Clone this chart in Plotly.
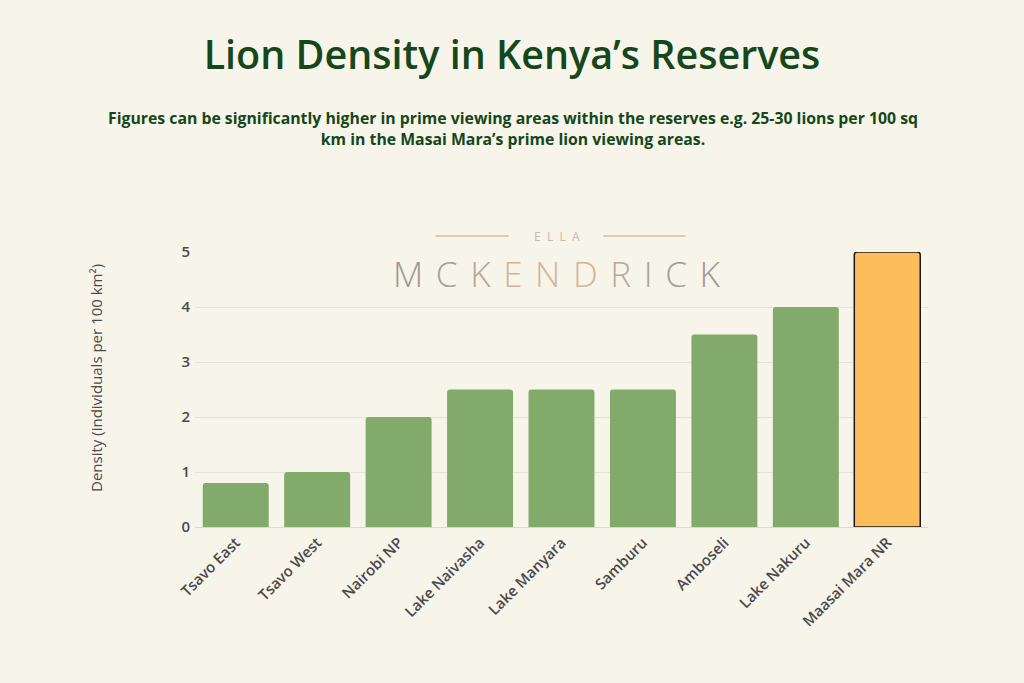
import plotly.graph_objects as go

# data
reserves = ["Tsavo East", "Tsavo West", "Nairobi NP", "Lake Naivasha", "Lake Manyara",
            "Samburu", "Amboseli", "Lake Nakuru", "Maasai Mara NR"]
density = [0.8, 1.0, 2.0, 2.5, 2.5, 2.5, 3.5, 4.0, 5.0]
highlight = "Maasai Mara NR"

title_text = "Lion Density in Kenya’s Reserves"
subtitle_text = ("Figures can be significantly higher in prime viewing areas within the reserves e.g. 25-30 lions per 100 sq"
                 "<br>km in the Masai Mara’s prime lion viewing areas.")
y_title = "Density (individuals per 100 km²)"

# watermark letters and their tint (greyish at the ends, tan in the middle)
wm_letters = list("MCKENDRICK")
wm_colors = ["#9e9890", "#a8a198", "#b4a797", "#d0b496", "#d3b697",
             "#d3b595", "#b8aa9b", "#aba49b", "#a59f97", "#a09a93"]

BG = "#f7f4ea"
GREEN = "#82ab6b"
ORANGE = "#fdbd5b"
DARK_GREEN = "#15471a"
TICK = "#4a4a4a"
FONT = "Open Sans, Noto Sans, sans-serif"

colors = [ORANGE if r == highlight else GREEN for r in reserves]
line_w = [1.5 if r == highlight else 0 for r in reserves]

fig = go.Figure()
fig.add_trace(go.Bar(
    x=reserves,
    y=density,
    marker=dict(color=colors, line=dict(color="#1a1a1a", width=line_w), cornerradius=3),
    hoverinfo="x+y",
))

fig.update_layout(
    width=1024, height=683,
    paper_bgcolor=BG, plot_bgcolor=BG,
    margin=dict(l=195, r=96, t=252, b=156),
    bargap=0.19,
    showlegend=False,
    font=dict(family=FONT, color=TICK),
    title=dict(text=title_text, x=0.5, xanchor="center", y=0.919, yanchor="middle",
               font=dict(size=39.5, color=DARK_GREEN, family=FONT, weight=600)),
)

fig.update_xaxes(
    tickangle=-45,
    tickfont=dict(size=15, color=TICK, weight=600),
    showline=True, linecolor="#dcd8cc", ticks="", showgrid=False,
)
fig.update_yaxes(
    range=[0, 5], dtick=1,
    gridcolor="#e6e2d6", zeroline=False,
    tickfont=dict(size=15, color=TICK, weight=600),
    ticklabelstandoff=4,
)

# y axis title, a bit above the middle of the plot like the reference
fig.add_annotation(
    text=y_title, textangle=-90, xref="paper", yref="paper",
    x=0.0, y=0.542, xanchor="center", yanchor="middle", xshift=-99,
    showarrow=False, font=dict(size=15, color=TICK, family=FONT),
)

# subtitle
fig.add_annotation(
    text=subtitle_text, xref="paper", yref="paper",
    x=0.434, y=1.0, xanchor="center", yanchor="middle", yshift=124,
    showarrow=False, align="center",
    font=dict(size=15.8, color=DARK_GREEN, family=FONT, weight="bold"),
)

# watermark
wm_text = " \u200a".join(f"<span style='color:{c}'>{l}</span>" for l, c in zip(wm_letters, wm_colors))
fig.add_annotation(
    text="E  L  L  A", x=0.4935, y=1.0, xref="paper", yref="paper", yanchor="middle", yshift=16,
    showarrow=False, font=dict(size=12, color="#c9bba9", family=FONT),
)
fig.add_annotation(
    text=wm_text, x=0.493, y=1.0, xref="paper", yref="paper", yanchor="middle", yshift=-21,
    showarrow=False, font=dict(size=35, family=FONT, weight=300),
)
fig.add_shape(type="line", xref="paper", yref="paper", x0=0.328, x1=0.428, y0=1.058, y1=1.058,
              line=dict(color="#dccbb5", width=2))
fig.add_shape(type="line", xref="paper", yref="paper", x0=0.557, x1=0.669, y0=1.058, y1=1.058,
              line=dict(color="#dccbb5", width=2))

fig.write_html("out.html", config={"displayModeBar": False},
               post_script="document.body.style.margin='0';")
